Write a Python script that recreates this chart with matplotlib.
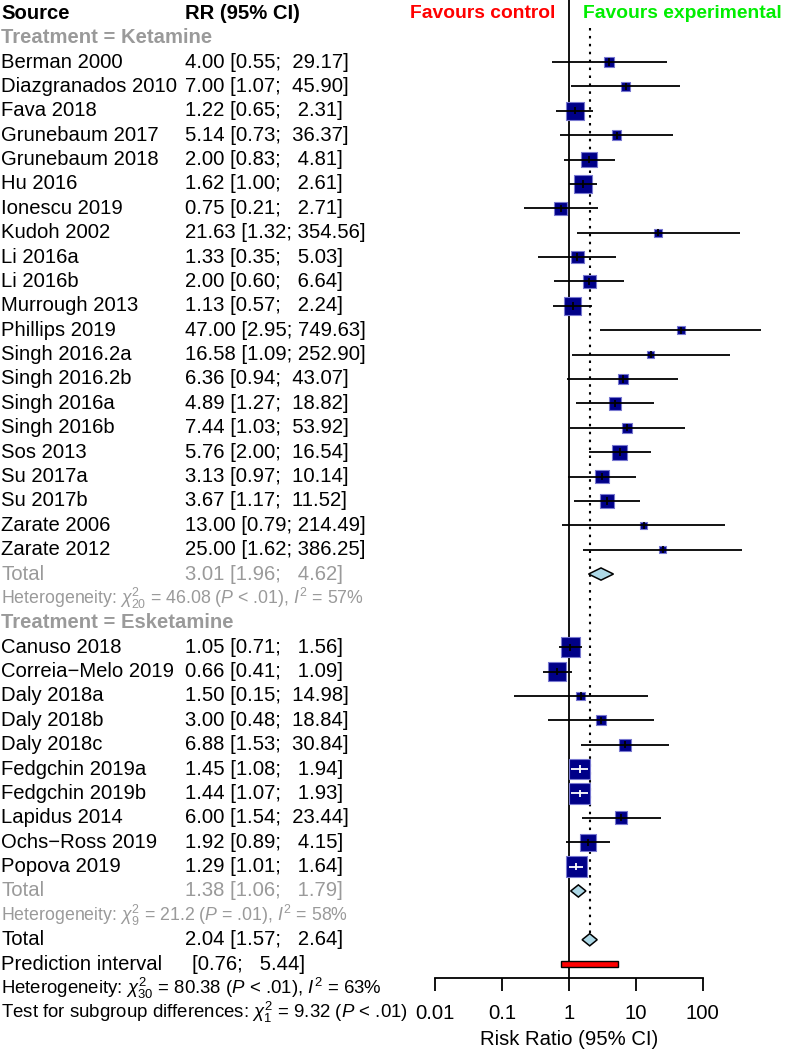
import numpy as np
import matplotlib
matplotlib.use("Agg")
import matplotlib.pyplot as plt
from matplotlib.patches import Polygon, Rectangle

plt.rcParams['font.family'] = ['Liberation Sans', 'DejaVu Sans']
plt.rcParams['mathtext.fontset'] = 'custom'
plt.rcParams['mathtext.rm'] = 'Liberation Sans'
plt.rcParams['mathtext.it'] = 'Liberation Sans:italic'
plt.rcParams['mathtext.bf'] = 'Liberation Sans:bold'

# Data
ket_studies = ["Berman 2000", "Diazgranados 2010", "Fava 2018", "Grunebaum 2017",
               "Grunebaum 2018", "Hu 2016", "Ionescu 2019", "Kudoh 2002", "Li 2016a",
               "Li 2016b", "Murrough 2013", "Phillips 2019", "Singh 2016.2a",
               "Singh 2016.2b", "Singh 2016a", "Singh 2016b", "Sos 2013", "Su 2017a",
               "Su 2017b", "Zarate 2006", "Zarate 2012"]
ket_rr = [4.00, 7.00, 1.22, 5.14, 2.00, 1.62, 0.75, 21.63, 1.33, 2.00, 1.13,
          47.00, 16.58, 6.36, 4.89, 7.44, 5.76, 3.13, 3.67, 13.00, 25.00]
ket_lo = [0.55, 1.07, 0.65, 0.73, 0.83, 1.00, 0.21, 1.32, 0.35, 0.60, 0.57,
          2.95, 1.09, 0.94, 1.27, 1.03, 2.00, 0.97, 1.17, 0.79, 1.62]
ket_hi = [29.17, 45.90, 2.31, 36.37, 4.81, 2.61, 2.71, 354.56, 5.03, 6.64, 2.24,
          749.63, 252.90, 43.07, 18.82, 53.92, 16.54, 10.14, 11.52, 214.49, 386.25]
ket_w = [1.6, 1.6, 5.2, 1.6, 4.1, 5.8, 2.7, 1.0, 2.7, 2.7, 5.2,
         1.0, 1.0, 1.6, 2.7, 1.6, 3.6, 3.2, 3.2, 0.8, 0.8]

esk_studies = ["Canuso 2018", "Correia\u2212Melo 2019", "Daly 2018a", "Daly 2018b",
               "Daly 2018c", "Fedgchin 2019a", "Fedgchin 2019b", "Lapidus 2014",
               "Ochs\u2212Ross 2019", "Popova 2019"]
esk_rr = [1.05, 0.66, 1.50, 3.00, 6.88, 1.45, 1.44, 6.00, 1.92, 1.29]
esk_lo = [0.71, 0.41, 0.15, 0.48, 1.53, 1.08, 1.07, 1.54, 0.89, 1.01]
esk_hi = [1.56, 1.09, 14.98, 18.84, 30.84, 1.94, 1.93, 23.44, 4.15, 1.64]
esk_w = [6.4, 5.8, 1.3, 1.6, 2.3, 7.1, 7.1, 2.7, 4.6, 7.1]

ket_total = (3.01, 1.96, 4.62)
esk_total = (1.38, 1.06, 1.79)
all_total = (2.04, 1.57, 2.64)
pred_int = (0.76, 5.44)

ket_het = r"Heterogeneity: $\chi^2_{20}$ = 46.08 ($P$ < .01), $I^2$ = 57%"
esk_het = r"Heterogeneity: $\chi^2_{9}$ = 21.2 ($P$ = .01), $I^2$ = 58%"
all_het = r"Heterogeneity: $\chi^2_{30}$ = 80.38 ($P$ < .01), $I^2$ = 63%"
sub_test = r"Test for subgroup differences: $\chi^2_{1}$ = 9.32 ($P$ < .01)"

xticks = [0.01, 0.1, 1, 10, 100]
xticklabels = ["0.01", "0.1", "1", "10", "100"]

GRAY = "#9a9a9a"
NAVY = "#000088"
FS = 14.6
FS_HET = 13.4
FS_HET_SUB = 12.8
PX_DEC = 66.9  # pixels per decade


def ci_text(est, lo, hi):
    return f"{est:.2f} [{lo:.2f}; {hi:6.2f}]"


# row layout
ket_rows = list(range(2, 2 + len(ket_studies)))
row_ket_total = 23
row_ket_het = 24
row_esk_head = 25
esk_rows = list(range(26, 26 + len(esk_studies)))
row_esk_total = 36
row_esk_het = 37
row_total = 38
row_pred = 39
row_het = 40
row_test = 41

y0, dy = 13.3, 24.38
ylim = ((1050 - y0) / dy, (0 - y0) / dy)

fig = plt.figure(figsize=(7.88, 10.5), dpi=100)
tx = fig.add_axes([0, 0, 1, 1])
tx.set_xlim(0, 788)
tx.set_ylim(*ylim)
tx.axis("off")

ax = fig.add_axes([400 / 788, 0, 388 / 788, 1])
ax.set_xscale("log")
ax.set_xlim(10 ** ((400 - 569) / PX_DEC), 10 ** ((788 - 569) / PX_DEC))
ax.set_ylim(*ylim)
ax.patch.set_alpha(0)

# left columns
X_SRC, X_RR = 1, 185
tx.text(X_SRC, 0, "Source", fontsize=FS, fontweight="bold", va="center")
tx.text(X_RR, 0, "RR (95% CI)", fontsize=FS, fontweight="bold", va="center")
tx.text(X_SRC, 1, "Treatment = Ketamine", fontsize=FS, fontweight="bold", color=GRAY, va="center")
tx.text(X_SRC, row_esk_head, "Treatment = Esketamine", fontsize=FS, fontweight="bold", color=GRAY, va="center")

for names, rr, lo, hi, rows in [(ket_studies, ket_rr, ket_lo, ket_hi, ket_rows),
                                (esk_studies, esk_rr, esk_lo, esk_hi, esk_rows)]:
    for n, e, l, h, r in zip(names, rr, lo, hi, rows):
        tx.text(X_SRC, r, n, fontsize=FS, va="center")
        tx.text(X_RR, r, ci_text(e, l, h), fontsize=FS, va="center")

for tot, r_tot, het, r_het in [(ket_total, row_ket_total, ket_het, row_ket_het),
                               (esk_total, row_esk_total, esk_het, row_esk_het)]:
    tx.text(X_SRC, r_tot, "Total", fontsize=FS, color=GRAY, va="center")
    tx.text(X_RR, r_tot, ci_text(*tot), fontsize=FS, color=GRAY, va="center")
    tx.text(X_SRC, r_het, het, fontsize=FS_HET_SUB, color=GRAY, va="center")

tx.text(X_SRC, row_total, "Total", fontsize=FS, va="center")
tx.text(X_RR, row_total, ci_text(*all_total), fontsize=FS, va="center")
tx.text(X_SRC, row_pred, "Prediction interval", fontsize=FS, va="center")
tx.text(192, row_pred, f"[{pred_int[0]:.2f}; {pred_int[1]:6.2f}]", fontsize=FS, va="center")
tx.text(X_SRC, row_het, all_het, fontsize=FS_HET, va="center")
tx.text(X_SRC, row_test, sub_test, fontsize=FS_HET, va="center")

# favours labels
tx.text(555, 0, "Favours control", fontsize=13.9, fontweight="bold", color="#ff0000", ha="right", va="center")
tx.text(583, 0, "Favours experimental", fontsize=13.9, fontweight="bold", color="#00ee00", ha="left", va="center")

# reference lines
axis_row = (978 - y0) / dy
ax.vlines(1, ylim[1], axis_row, color="black", lw=1.3, zorder=1)
ax.vlines(all_total[0], 0.6, row_total - 0.25, color="black", lw=1.5,
          linestyle=(0, (1.2, 2.6)), zorder=1)

# studies
for rr, lo, hi, w, rows in [(ket_rr, ket_lo, ket_hi, ket_w, ket_rows),
                            (esk_rr, esk_lo, esk_hi, esk_w, esk_rows)]:
    rr, lo, hi, w = map(np.array, (rr, lo, hi, w))
    side_px = np.sqrt(w * 62.15)
    ax.scatter(rr, rows, marker="s", s=((side_px - 0.2) * 0.72) ** 2,
               facecolor=NAVY, edgecolor="#7878d0", linewidths=0.8, zorder=2)
    half = side_px / 2 / PX_DEC
    inside = (np.log10(hi / rr) < half) & (np.log10(rr / lo) < half)
    cols = np.where(inside, "white", "black")
    ax.hlines(rows, lo, hi, colors=cols, lw=1.3, zorder=3)
    ax.vlines(rr, np.array(rows) - 0.15, np.array(rows) + 0.15, colors=cols, lw=1.3, zorder=3)

# diamonds
for (e, l, h), r in [(ket_total, row_ket_total), (esk_total, row_esk_total), (all_total, row_total)]:
    d = 0.25
    ax.add_patch(Polygon([(l, r), (e, r - d), (h, r), (e, r + d)], closed=True,
                         facecolor="#add8e6", edgecolor="black", lw=1.1, zorder=3))

# prediction interval
ax.add_patch(Rectangle((pred_int[0], row_pred - 0.11), pred_int[1] - pred_int[0], 0.22,
                       facecolor="#ff0000", edgecolor="black", lw=1.0, zorder=3))

# x axis
for s in ["top", "right", "left"]:
    ax.spines[s].set_visible(False)
ax.spines["bottom"].set_position(("data", axis_row))
ax.spines["bottom"].set_bounds(0.01, 100)
ax.spines["bottom"].set_linewidth(1.3)
ax.set_xticks(xticks)
ax.set_xticklabels(xticklabels, fontsize=FS)
ax.xaxis.set_minor_locator(matplotlib.ticker.NullLocator())
ax.tick_params(axis="x", direction="out", length=9, width=1.3, pad=10)
ax.set_yticks([])
ax.text(1, 42.1, "Risk Ratio (95% CI)", fontsize=FS, ha="center", va="center")

fig.savefig("out.png", dpi=100)
